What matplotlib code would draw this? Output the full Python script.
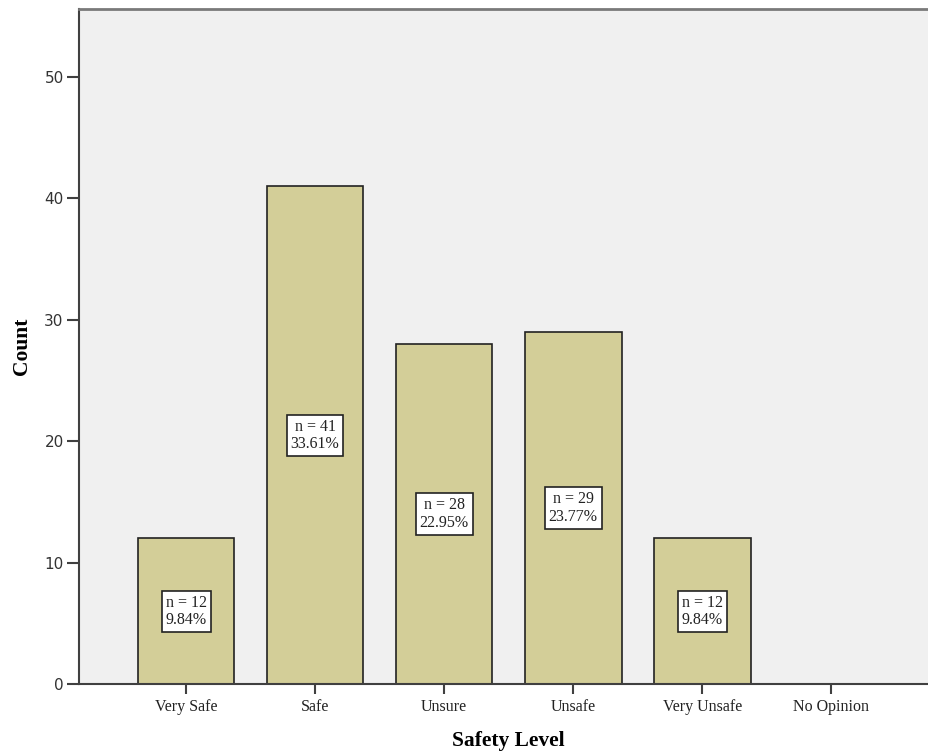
import matplotlib
matplotlib.use("Agg")
import matplotlib.pyplot as plt

categories = ["Very Safe", "Safe", "Unsure", "Unsafe", "Very Unsafe", "No Opinion"]
counts = [12, 41, 28, 29, 12, 0]
percents = [9.84, 33.61, 22.95, 23.77, 9.84, 0.0]

BAR_CLR = "#d3ce98"
PANEL_BG = "#f0f0f0"
SPINE_CLR = "#404040"
SERIF = ["Liberation Serif", "DejaVu Serif"]

fig = plt.figure(figsize=(9.29, 7.54), dpi=100)
ax = fig.add_axes([0.085, 0.0928, 0.925, 0.8952])
ax.set_facecolor(PANEL_BG)

x = list(range(len(categories)))
ax.bar(x, counts, width=0.75, color=BAR_CLR, edgecolor="#222222", linewidth=1.2, zorder=2)

for xi, c, p in zip(x, counts, percents):
    if c <= 0:
        continue
    ax.text(xi, c / 2, f"n = {c}\n{p:.2f}%", ha="center", va="center",
            fontsize=11.5, family=SERIF, linespacing=1.1, color="#222222", zorder=3,
            bbox=dict(boxstyle="square,pad=0.25", facecolor="white",
                      edgecolor="#222222", linewidth=1.2))

ax.set_xlim(-0.83, 5.83)
ax.set_ylim(0, 55.6)
ax.set_yticks([0, 10, 20, 30, 40, 50])
ax.set_xticks(x)
ax.set_xticklabels(categories, family=SERIF, fontsize=11.5, color="#222222")

ax.tick_params(axis="y", direction="out", length=9, width=1.5, color=SPINE_CLR,
               labelsize=11, labelcolor="#333333", pad=2)
ax.tick_params(axis="x", direction="out", length=7, width=1.5, color=SPINE_CLR, pad=4)

ax.spines["left"].set_color(SPINE_CLR)
ax.spines["left"].set_linewidth(1.5)
ax.spines["bottom"].set_color(SPINE_CLR)
ax.spines["bottom"].set_linewidth(1.5)
ax.spines["top"].set_color("#7a7a7a")
ax.spines["top"].set_linewidth(2)
ax.spines["right"].set_visible(False)

ax.set_ylabel("Count", family=SERIF, fontsize=15.5, fontweight="bold", labelpad=9)
ax.set_xlabel("Safety Level", family=SERIF, fontsize=15.5, fontweight="bold", labelpad=11)

fig.savefig("out.png", dpi=100)
